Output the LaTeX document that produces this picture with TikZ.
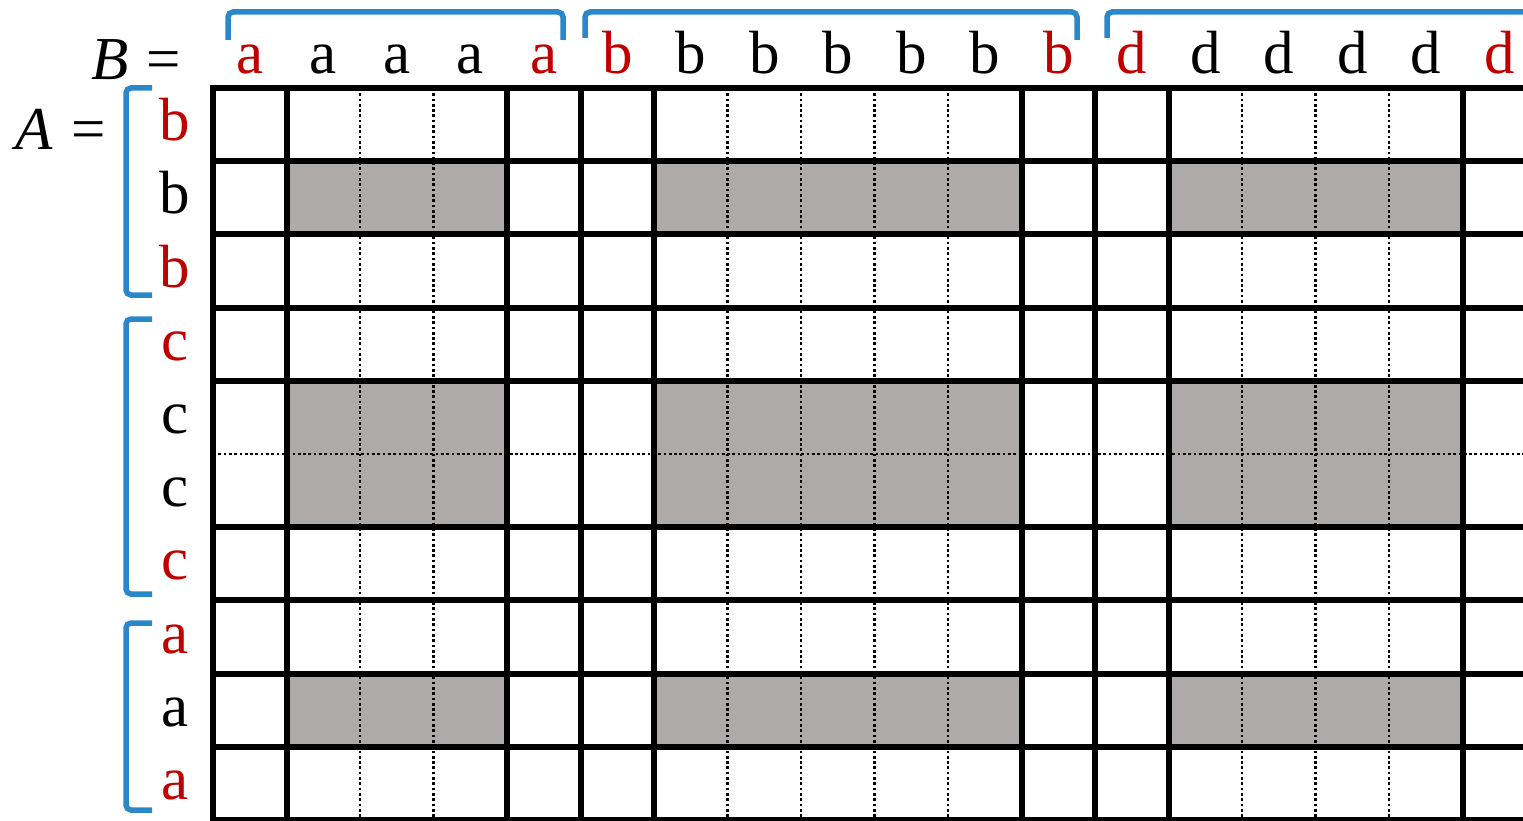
\documentclass[tikz,border=0pt]{standalone}
\usepackage{fontspec}
\setmainfont{Liberation Serif}
\definecolor{lblred}{RGB}{192,0,0}
\definecolor{brblue}{RGB}{42,135,202}
\definecolor{cellgray}{RGB}{174,170,169}
\begin{document}
\begin{tikzpicture}[x=1pt,y=-1pt,
  lbl/.style={font=\fontsize{61}{72}\selectfont, anchor=base, inner sep=0pt},
  solidline/.style={line width=6pt, black, line cap=rect},
  dotline/.style={line width=2.7pt, black, dash pattern=on 2.7pt off 2.6pt},
  brk/.style={line width=5.5pt, brblue, rounded corners=5pt}]
\useasboundingbox (0,0) rectangle (1523,821);
\clip (0,0) rectangle (1523,821);
% gray cells
\foreach \a/\b in {1/4,6/11,13/17}
  \foreach \r/\s in {1/2,4/6,8/9}
    \fill[cellgray] ({213+\a*73.5},{88+\r*73.2}) rectangle ({213+\b*73.5},{88+\s*73.2});
% dotted lines
\foreach \i in {2,3,7,8,9,10,14,15,16}
  \draw[dotline] ({213+\i*73.5},88) -- ({213+\i*73.5},820);
\draw[dotline] (213,{88+5*73.2}) -- (1540,{88+5*73.2});
% solid lines
\foreach \i in {0,1,4,5,6,11,12,13,17,18}
  \draw[solidline] ({213+\i*73.5},88) -- ({213+\i*73.5},820);
\foreach \r in {0,1,2,3,4,6,7,8,9,10}
  \draw[solidline] (213,{88+\r*73.2}) -- (1540,{88+\r*73.2});
% column labels
\foreach \i/\t/\c in {0/a/lblred,1/a/black,2/a/black,3/a/black,4/a/lblred,
  5/b/lblred,6/b/black,7/b/black,8/b/black,9/b/black,10/b/black,11/b/lblred,
  12/d/lblred,13/d/black,14/d/black,15/d/black,16/d/black,17/d/lblred}
  \node[lbl,text=\c] (col\i) at ({213+(\i+0.5)*73.5},74) {\t};
% row labels
\foreach \i/\t/\c in {0/b/lblred,1/b/black,2/b/lblred,3/c/lblred,4/c/black,
  5/c/black,6/c/lblred,7/a/lblred,8/a/black,9/a/lblred}
  \node[lbl,text=\c] (row\i) at (175,{88+(\i+0.5)*73.2+16}) {\t};
% B = and A =
\node[lbl,anchor=base east] (Blabel) at (181,80) {\textit{B}\hspace{18pt}=};
\node[lbl,anchor=base east] (Alabel) at (106,150) {\textit{A}\hspace{18pt}=};
% brackets
\draw[brk] (228,40) -- (228,12) -- (563,12) -- (563,40);
\draw[brk] (585,38) -- (585,12) -- (1077,12) -- (1077,40);
\draw[brk] (1107,38) -- (1107,12) -- (1560,12);
\draw[brk] (152,88) -- (126,88) -- (126,295) -- (152,295);
\draw[brk] (152,319) -- (126,319) -- (126,594) -- (152,594);
\draw[brk] (152,623) -- (126,623) -- (126,810) -- (152,810);
\end{tikzpicture}
\end{document}
